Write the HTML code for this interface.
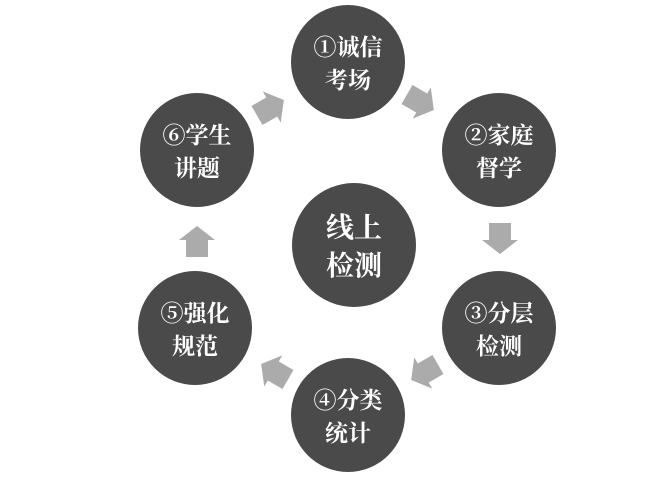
<!DOCTYPE html>
<html><head><meta charset="utf-8"><style>
body{margin:0;background:#fff;}
svg text{font-family:"Liberation Serif","Noto Serif CJK SC",serif;fill:#fff;font-weight:bold;text-anchor:middle;}
</style></head><body>
<svg width="656" height="486" viewBox="0 0 656 486" xmlns="http://www.w3.org/2000/svg">
<defs>
<polygon id="ar" points="-15,-11 2,-11 2,-18 16,0 2,18 2,11 -15,11" fill="#ababab"/>
</defs>
<g fill="#4a4a4a">
<circle cx="348" cy="62" r="57"/>
<circle cx="499" cy="150" r="57"/>
<circle cx="499" cy="328" r="57"/>
<circle cx="348" cy="415" r="57"/>
<circle cx="195" cy="328" r="57"/>
<circle cx="197" cy="150" r="57"/>
<circle cx="354" cy="245" r="62"/>
</g>
<use href="#ar" transform="translate(270,108) rotate(-30)"/>
<use href="#ar" transform="translate(420,102) rotate(30)"/>
<use href="#ar" transform="translate(500,238) rotate(90)"/>
<use href="#ar" transform="translate(425,372) rotate(150)"/>
<use href="#ar" transform="translate(275,372) rotate(210)"/>
<use href="#ar" transform="translate(197,242) rotate(-90)"/>
<g font-size="23">
<text x="348" y="55">①诚信</text><text x="348" y="88">考场</text>
<text x="499" y="143">②家庭</text><text x="499" y="176">督学</text>
<text x="499" y="321">③分层</text><text x="499" y="354">检测</text>
<text x="348" y="408">④分类</text><text x="348" y="441">统计</text>
<text x="195" y="321">⑤强化</text><text x="195" y="354">规范</text>
<text x="197" y="143">⑥学生</text><text x="197" y="176">讲题</text>
</g>
<g font-size="28">
<text x="354" y="237">线上</text><text x="354" y="275">检测</text>
</g>
</svg>
</body></html>
